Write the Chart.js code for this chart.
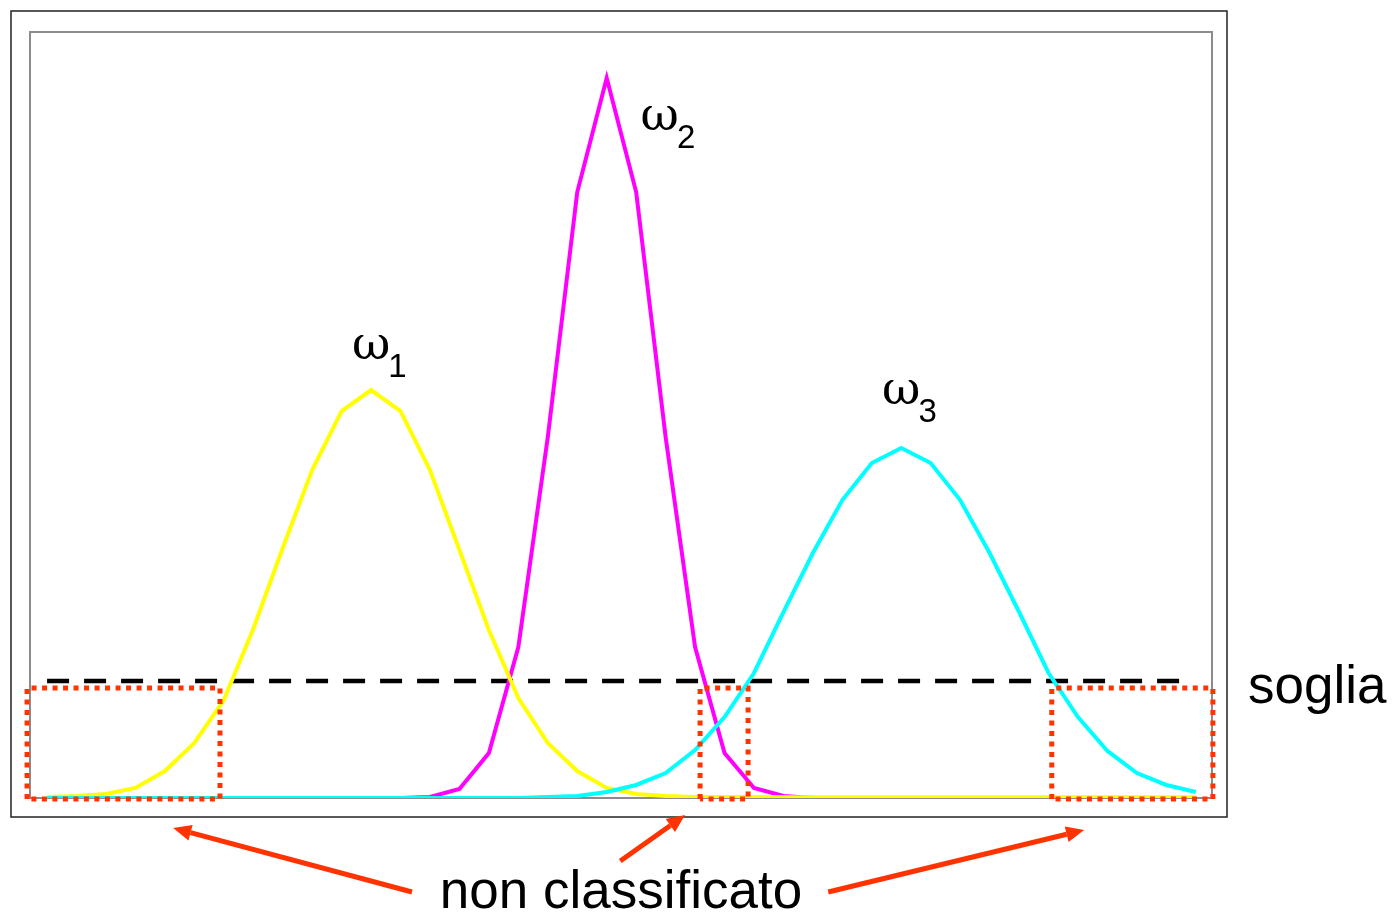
<!DOCTYPE html>
<html>
<head>
<meta charset="utf-8">
<script src="https://cdn.jsdelivr.net/npm/chart.js@4.4.1/dist/chart.umd.min.js"></script>
<style>
    body { margin: 0; background: #fff; }
    canvas { display: block; }
</style>
</head>
<body>
<canvas id="classChart" width="1392" height="913"></canvas>
<script>
// curve values, sampled on 40 points (index 0..39)
const omega1 = [0.13, 0.26, 0.52, 1.31, 3.52, 7.18, 12.79, 22.06, 32.64, 42.82, 50.52, 53.26, 50.52, 42.82, 32.38, 21.93, 13.05, 7.18, 3.52, 1.31,
    0.52, 0.26, 0.13, 0.13, 0.13, 0.1, 0.1, 0.1, 0.1, 0.1, 0.1, 0.1, 0.1, 0.1, 0.1, 0.1, 0.1, 0.1, 0.1, 0.1];
const omega2 = [0, 0, 0, 0, 0, 0, 0, 0, 0, 0, 0, 0, 0, 0.13, 1.17, 5.87, 19.71, 47.13, 79.11, 94.0,
    79.11, 47.13, 19.71, 5.87, 1.31, 0.26, 0, 0, 0, 0, 0, 0, 0, 0, 0, 0, 0, 0, 0, 0];
const omega3 = [0, 0, 0, 0, 0, 0, 0, 0, 0, 0, 0, 0, 0, 0, 0, 0, 0, 0.13, 0.26, 0.78,
    1.70, 3.26, 6.27, 10.57, 16.32, 24.28, 31.98, 38.90, 43.73, 45.69, 43.73, 38.90, 31.98, 24.28, 16.32, 10.57, 6.14, 3.26, 1.70, 0.78];

const soglia = 15.27;
const sogliaEnd = 38.7;
const boxTop = 14.36;
// unclassified zones [from, to] on the x index
const zones = [[-0.68, 5.87], [22.17, 23.8], [34.11, 39.58]];

const curveLabels = [
    { sub: '1', x: 10.35, y: 57.3 },
    { sub: '2', x: 20.15, y: 87.2 },
    { sub: '3', x: 28.35, y: 51.4 }
];

const idx = omega1.map((v, i) => i);
const toXY = arr => arr.map((v, i) => ({ x: idx[i], y: v }));

const red = '#ff3300';

const zoneSets = zones.map(z => ({
    data: [{ x: z[0], y: -0.13 }, { x: z[0], y: boxTop }, { x: z[1], y: boxTop }, { x: z[1], y: -0.13 }, { x: z[0], y: -0.13 }],
    borderColor: red,
    borderWidth: 5,
    borderDash: [5, 5.5],
    borderCapStyle: 'butt',
    pointRadius: 0,
    clip: false
}));

const decor = {
    id: 'decor',
    beforeDatasetsDraw(chart) {
        const { ctx, chartArea: a } = chart;
        ctx.save();
        ctx.strokeStyle = '#222';
        ctx.lineWidth = 1.5;
        ctx.strokeRect(a.left - 19, a.top - 21, a.width + 34, a.height + 40);
        ctx.strokeStyle = '#8c8c8c';
        ctx.lineWidth = 2;
        ctx.strokeRect(a.left, a.top, a.width, a.height);
        ctx.restore();
    },
    afterDraw(chart) {
        const { ctx, chartArea: a, scales: { x, y } } = chart;
        ctx.save();
        ctx.fillStyle = '#000';
        ctx.textBaseline = 'alphabetic';
        curveLabels.forEach(l => {
            const px = x.getPixelForValue(l.x);
            const py = y.getPixelForValue(l.y);
            ctx.font = '47px "DejaVu Serif", serif';
            ctx.textAlign = 'left';
            ctx.fillText('ω', px, py);
            const w = ctx.measureText('ω').width;
            ctx.font = '33px "Liberation Sans", Arial, sans-serif';
            ctx.fillText(l.sub, px + w - 2, py + 18);
        });
        ctx.font = '53px "Liberation Sans", Arial, sans-serif';
        ctx.textAlign = 'left';
        ctx.fillText('soglia', a.right + 36, y.getPixelForValue(soglia) + 22);
        ctx.textAlign = 'center';
        ctx.fillText('non classificato', (a.left + a.right) / 2, a.bottom + 110);

        const arrows = [
            [12.39, 94, 4.28, 30],
            [19.46, 63, 21.66, 17],
            [26.52, 94, 35.21, 32]
        ];
        ctx.strokeStyle = red;
        ctx.fillStyle = red;
        ctx.lineWidth = 5;
        arrows.forEach(ar => {
            const x0 = x.getPixelForValue(ar[0]), y0 = a.bottom + ar[1];
            const x1 = x.getPixelForValue(ar[2]), y1 = a.bottom + ar[3];
            const ang = Math.atan2(y1 - y0, x1 - x0);
            const hl = 18, hw = 8;
            const bx = x1 - hl * Math.cos(ang), by = y1 - hl * Math.sin(ang);
            ctx.beginPath();
            ctx.moveTo(x0, y0);
            ctx.lineTo(bx, by);
            ctx.stroke();
            ctx.beginPath();
            ctx.moveTo(x1, y1);
            ctx.lineTo(bx + hw * Math.sin(ang), by - hw * Math.cos(ang));
            ctx.lineTo(bx - hw * Math.sin(ang), by + hw * Math.cos(ang));
            ctx.closePath();
            ctx.fill();
        });
        ctx.restore();
    }
};

const chart = new Chart(document.getElementById('classChart'), {
    type: 'line',
    data: {
        datasets: [
            ...zoneSets,
            { data: toXY(omega3), borderColor: '#00ffff', borderWidth: 4, pointRadius: 0, tension: 0 },
            { data: toXY(omega1), borderColor: '#ffff00', borderWidth: 4, pointRadius: 0, tension: 0 },
            { data: toXY(omega2), borderColor: '#ff00ff', borderWidth: 4, pointRadius: 0, tension: 0 },
            {
                data: [{ x: idx[0], y: soglia }, { x: sogliaEnd, y: soglia }],
                borderColor: '#000', borderWidth: 4.5, borderDash: [22, 15], pointRadius: 0
            }
        ]
    },
    options: {
        responsive: false,
        devicePixelRatio: 1,
        animation: false,
        layout: { padding: { left: 30, top: 32, right: 180, bottom: 115 } },
        scales: {
            x: { type: 'linear', min: -0.58, max: 39.55, display: false },
            y: { min: 0, max: 100, display: false }
        },
        plugins: { legend: { display: false }, tooltip: { enabled: false } }
    },
    plugins: [decor]
});
</script>
</body>
</html>
